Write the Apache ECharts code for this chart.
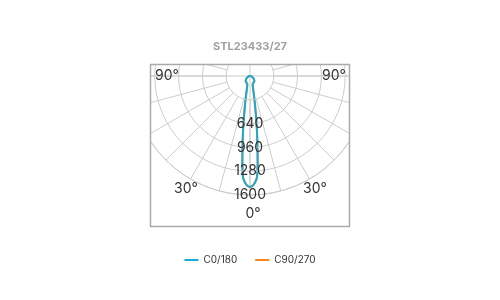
<!DOCTYPE html>
<html>
<head>
<meta charset="utf-8">
<script src="https://cdn.jsdelivr.net/npm/echarts@6/dist/echarts.min.js"></script>
<style>html,body{margin:0;padding:0;background:#fff}#c{width:500px;height:300px}</style>
</head>
<body>
<div id="c"></div>
<script>
// ---- data ----
var titleText = 'STL23433/27';
var seriesNames = ['C0/180', 'C90/270'];
// gamma angles (deg) and candela values, one half-plane
var gammaAngles = [0, 1, 2, 3, 4, 5, 6, 7, 8, 9, 10, 11, 12, 14, 17, 20, 30, 40, 50, 60, 75, 90, 105, 120, 150, 180];
var c0Values    = [1490, 1485, 1460, 1420, 1360, 1180, 960, 780, 620, 480, 380, 300, 240, 170, 125, 110, 100, 90, 70, 45, 20, 5, 0, 0, 0, 0];
var c90Values   = [1490, 1485, 1460, 1420, 1360, 1180, 960, 780, 620, 480, 380, 300, 240, 170, 125, 110, 100, 90, 70, 45, 20, 5, 0, 0, 0, 0];
var radiusMax = 1600;
var radiusStep = 320;
var radiusLabelsShown = [640, 960, 1280, 1600];
var angleLabels = ['90°', '90°', '30°', '30°', '0°'];

function curve(vals) {
  var d = [];
  for (var i = 0; i < gammaAngles.length; i++) d.push([vals[i], gammaAngles[i]]);
  for (var j = gammaAngles.length - 1; j >= 0; j--) d.push([vals[j], 360 - gammaAngles[j]]);
  return d;
}

var chart = echarts.init(document.getElementById('c'), null, {renderer: 'canvas'});
var gridColor = '#cccccc';
var labelFont = '14px Inter';
var R = 119;
var CX = 250, CY = 76;
var labelPos = [[167, 76], [334, 76], [186, 189], [315, 189], [253, 214]];
var elements = [
  {type: 'rect', z: 50, silent: true, shape: {x: 0, y: 0, width: 500, height: 64}, style: {fill: '#fff'}},
  {type: 'rect', z: 50, silent: true, shape: {x: 0, y: 227, width: 500, height: 73}, style: {fill: '#fff'}},
  {type: 'rect', z: 50, silent: true, shape: {x: 0, y: 64, width: 150, height: 163}, style: {fill: '#fff'}},
  {type: 'rect', z: 50, silent: true, shape: {x: 350, y: 64, width: 150, height: 163}, style: {fill: '#fff'}},
  {type: 'rect', z: 51, silent: true, shape: {x: 150.5, y: 64.5, width: 199, height: 162}, style: {fill: 'none', stroke: '#aaaaaa', lineWidth: 1.5}}
];
for (var k = 0; k < angleLabels.length; k++) {
  elements.push({type: 'text', z: 52, x: labelPos[k][0], y: labelPos[k][1],
    style: {text: angleLabels[k], font: labelFont, fill: '#333', align: 'center', verticalAlign: 'middle'}});
}

chart.setOption({
  animation: false,
  title: {text: titleText, left: 'center', top: 36, zlevel: 1, z: 60,
    textStyle: {fontFamily: 'Inter', fontSize: 11, fontWeight: 'bold', color: '#a0a0a0'}},
  legend: {data: seriesNames, top: 250, left: 'center', zlevel: 1, z: 60, icon: 'rect', itemWidth: 14, itemHeight: 2, itemGap: 18,
    textStyle: {fontFamily: 'Inter', fontSize: 10, color: '#333'}},
  polar: [
    {center: [CX, CY], radius: [R * radiusStep / radiusMax, R]},
    {center: [CX, CY], radius: R}
  ],
  angleAxis: [
    {polarIndex: 0, type: 'value', min: 0, max: 360, interval: 15, startAngle: 270, clockwise: true,
      axisLine: {show: false}, axisTick: {show: false}, axisLabel: {show: false},
      splitLine: {show: true, lineStyle: {color: gridColor, width: 1}}},
    {polarIndex: 1, type: 'value', min: 0, max: 360, interval: 90, startAngle: 270, clockwise: true,
      axisLine: {show: true, lineStyle: {color: gridColor, width: 1}},
      axisTick: {show: false}, axisLabel: {show: false},
      splitLine: {show: true, lineStyle: {color: gridColor, width: 1}}}
  ],
  radiusAxis: [
    {polarIndex: 0, type: 'value', min: 0, max: radiusMax, interval: radiusStep,
      axisLine: {show: false}, axisTick: {show: false}, axisLabel: {show: false}, splitLine: {show: false}},
    {polarIndex: 1, type: 'value', min: 0, max: radiusMax, interval: radiusStep, z: 3,
      axisLine: {show: false}, axisTick: {show: false},
      axisLabel: {show: true, margin: 0, align: 'center', verticalAlign: 'middle', fontFamily: 'Inter', fontSize: 14, color: '#333',
        formatter: function (v) { return radiusLabelsShown.indexOf(v) >= 0 ? String(v) : ''; }},
      splitLine: {show: true, lineStyle: {color: gridColor, width: 1}}}
  ],
  graphic: {zlevel: 1, elements: elements},
  series: [
    {name: seriesNames[0], type: 'line', coordinateSystem: 'polar', polarIndex: 1, data: curve(c0Values), z: 2,
      symbol: 'none', smooth: 0.3, lineStyle: {color: '#1aabd5', width: 2}, itemStyle: {color: '#1aabd5'}},
    {name: seriesNames[1], type: 'line', coordinateSystem: 'polar', polarIndex: 1, data: curve(c90Values), z: 1,
      symbol: 'none', smooth: 0.3, lineStyle: {color: '#f7861e', width: 2}, itemStyle: {color: '#f7861e'}}
  ]
});
</script>
</body>
</html>
